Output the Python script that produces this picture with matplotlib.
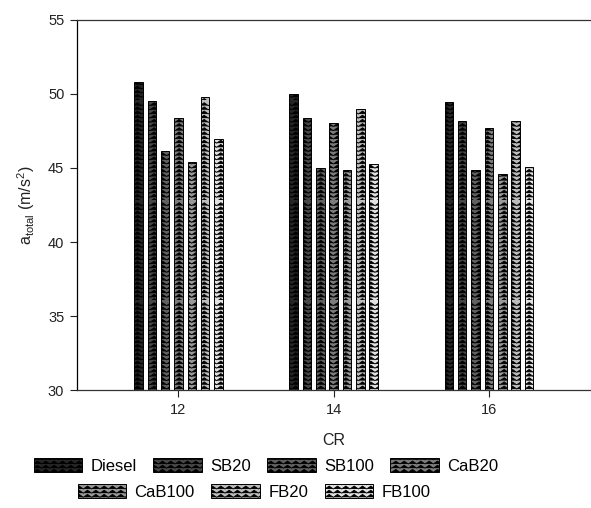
import warnings
import numpy as np
import matplotlib
matplotlib.use("Agg")
import matplotlib.pyplot as plt
import matplotlib.hatch as mhatch
from matplotlib.path import Path

warnings.filterwarnings("ignore")

# ---- data
cr = [12, 14, 16]
fuels = ["Diesel", "SB20", "SB100", "CaB20", "CaB100", "FB20", "FB100"]
diesel = [50.8, 50.0, 49.45]
sb20 = [49.5, 48.35, 48.2]
sb100 = [46.15, 45.0, 44.85]
cab20 = [48.4, 48.05, 47.7]
cab100 = [45.4, 44.85, 44.6]
fb20 = [49.8, 48.95, 48.2]
fb100 = [46.95, 45.25, 45.05]
values = [diesel, sb20, sb100, cab20, cab100, fb20, fb100]
colors = ["#262626", "#474747", "#606060", "#7c7c7c", "#989898", "#bdbdbd", "#e2e2e2"]


# ---- zigzag hatch (not in matplotlib, so register one)
class ZigzagHatch(mhatch.HatchPatternBase):
    def __init__(self, hatch, density):
        self.num_rows = int((hatch.count("z")) * density * 4)
        self.num_teeth = 12
        self.num_vertices = self.num_rows * (2 * self.num_teeth + 1)

    def set_vertices_and_codes(self, vertices, codes):
        npts = 2 * self.num_teeth + 1
        xs = np.linspace(0, 1, npts)
        amp = 0.35 / self.num_rows
        ys = np.where(np.arange(npts) % 2 == 0, -amp, amp)
        for i in range(self.num_rows):
            sl = slice(i * npts, (i + 1) * npts)
            vertices[sl, 0] = xs
            vertices[sl, 1] = i / self.num_rows + ys
            codes[sl] = Path.LINETO
            codes[i * npts] = Path.MOVETO


mhatch._hatch_types.append(ZigzagHatch)

plt.rcParams["font.family"] = ["Liberation Sans", "DejaVu Sans"]
plt.rcParams["hatch.linewidth"] = 0.6
plt.rcParams["mathtext.fontset"] = "custom"
plt.rcParams["mathtext.rm"] = "Liberation Sans"
plt.rcParams["mathtext.it"] = "Liberation Sans"

fig = plt.figure(figsize=(5.91, 5.08), dpi=100)
ax = fig.add_axes([0.130, 0.232, 0.868, 0.729])

pitch = 0.172
width = 0.11
x = np.array(cr, dtype=float)
handles = []
for i, (name, vals, col) in enumerate(zip(fuels, values, colors)):
    b = ax.bar(x + (i - 3) * pitch, np.array(vals) - 30, width, bottom=30,
               color=col, edgecolor="black", linewidth=0.7, hatch="z",
               label=name)
    handles.append(b)

ax.set_ylim(30, 55)
ax.set_xlim(10.69, 17.3)
ax.set_xticks(cr)
ax.set_yticks([30, 35, 40, 45, 50, 55])
ax.spines["right"].set_visible(False)
for s in ["left", "bottom", "top"]:
    ax.spines[s].set_linewidth(0.9)
ax.spines["top"].set_color("#333333")
ax.spines["bottom"].set_color("#333333")
ax.tick_params(axis="both", direction="out", length=5, width=0.8,
               labelsize=10.5, colors="#222222", pad=4)
ax.set_xlabel("CR", fontsize=11.5, labelpad=12, color="#222222")
ax.set_ylabel(r"a$_{\mathrm{total}}$ (m/s$^2$)", fontsize=11.5, labelpad=8,
              color="#222222")

leg_kw = dict(frameon=False, fontsize=12, handlelength=2.9, handleheight=0.9,
              handletextpad=0.5, columnspacing=1.0, borderaxespad=0)
fig.legend(handles[:4], fuels[:4], ncol=4, loc="center",
           bbox_to_anchor=(0.45, 0.083), **leg_kw)
fig.legend(handles[4:], fuels[4:], ncol=3, loc="center",
           bbox_to_anchor=(0.43, 0.031), **leg_kw)

fig.savefig("out.png", dpi=100)
